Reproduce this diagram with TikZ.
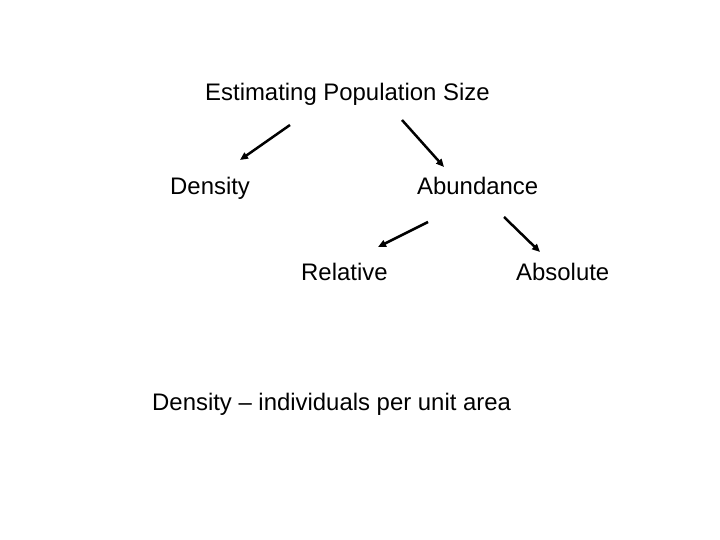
\documentclass[tikz,border=0pt]{standalone}
\usepackage{fontspec}
\setmainfont{Liberation Sans}
\usetikzlibrary{arrows.meta}
\tikzset{
    lbl/.style={anchor=base west, inner sep=0pt, font=\fontsize{24}{28}\selectfont},
    arr/.style={-{Triangle[length=8pt,width=7pt]}, line width=2.5pt}
}
\begin{document}
\begin{tikzpicture}[x=1bp, y=1bp]
\useasboundingbox (0,0) rectangle (720,540);
\node (title) at (205, 439) [lbl] {Estimating Population Size};
\node (dens) at (170, 345) [lbl] {Density};
\node (abund) at (417, 345) [lbl] {Abundance};
\node (rel) at (301, 259) [lbl] {Relative};
\node (abs) at (516, 259) [lbl] {Absolute};
\node (defn) at (152, 129) [lbl] {Density -- individuals per unit area};

\coordinate (t1) at (290, 415);
\coordinate (d1) at (240, 380);
\coordinate (t2) at (402, 420);
\coordinate (a2) at (444, 373);
\coordinate (b3) at (428, 318);
\coordinate (r3) at (378, 293);
\coordinate (b4) at (504, 323);
\coordinate (s4) at (540, 288);

\draw[arr] (t1) -- (d1);
\draw[arr] (t2) -- (a2);
\draw[arr] (b3) -- (r3);
\draw[arr] (b4) -- (s4);
\end{tikzpicture}
\end{document}
